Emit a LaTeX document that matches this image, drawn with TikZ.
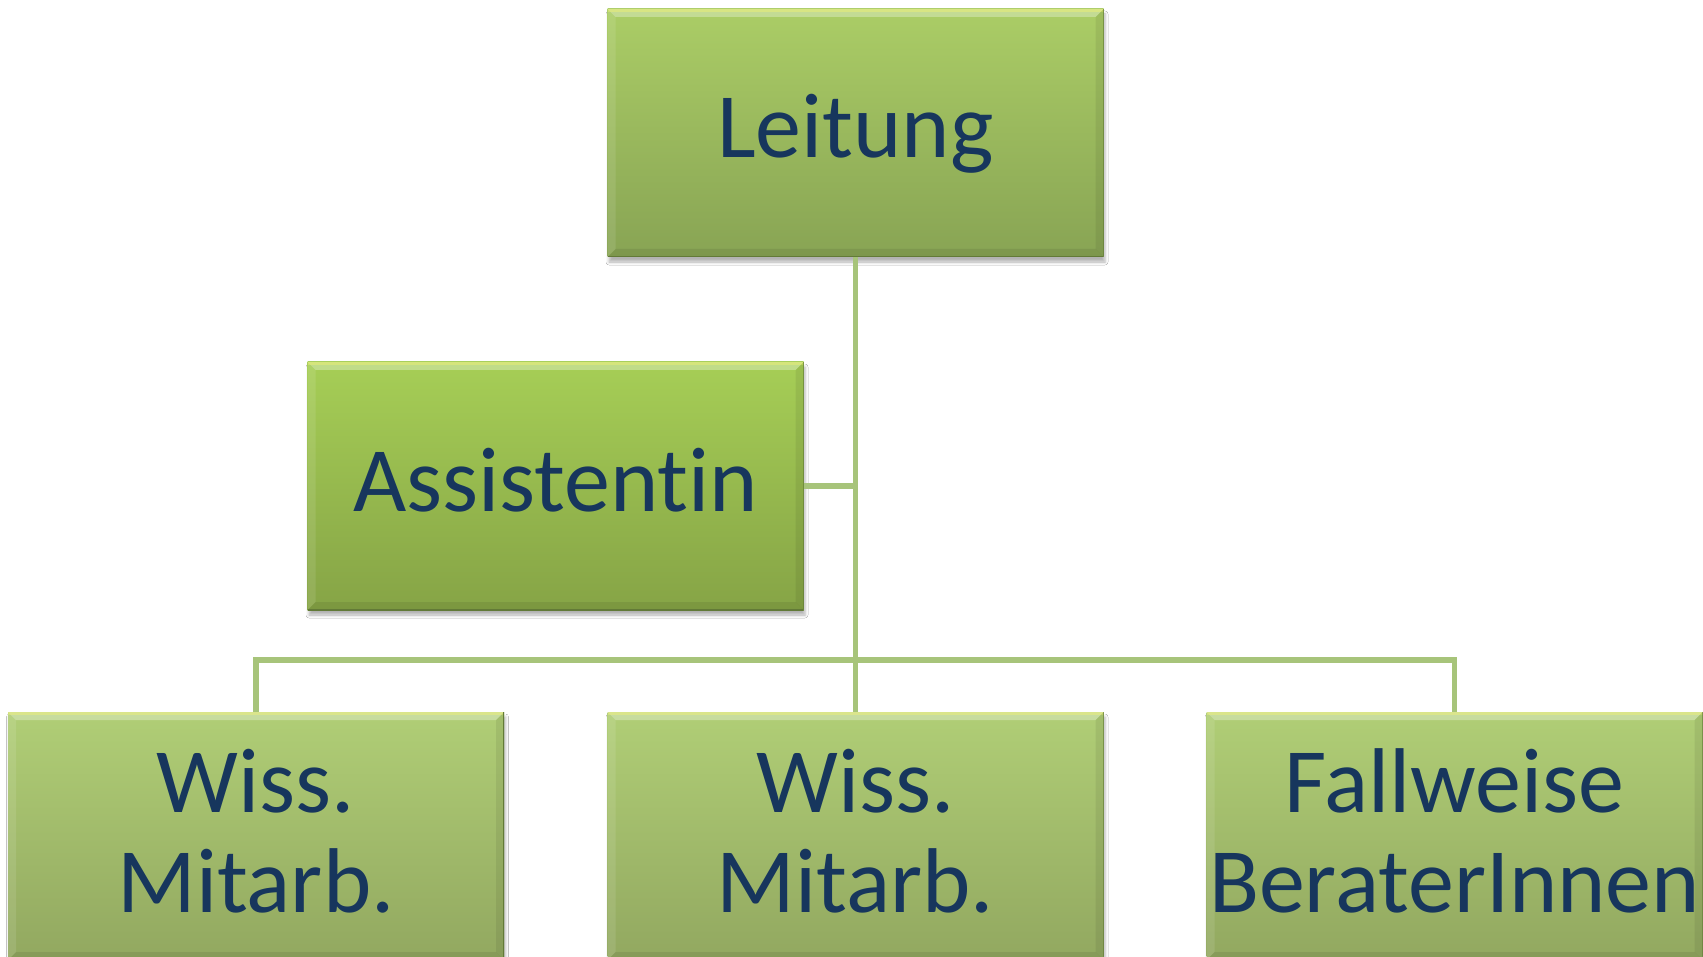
\documentclass[tikz,border=0pt]{standalone}
\usepackage{fontspec}
\setmainfont{Carlito}[Ligatures={NoCommon,NoRequired,NoContextual}]
\usetikzlibrary{shadows.blur}
\definecolor{txtblue}{HTML}{17365D}
\definecolor{connc}{RGB}{167,196,122}
\definecolor{edgec}{RGB}{98,122,55}
\definecolor{gA}{RGB}{171,205,102}
\definecolor{gAb}{RGB}{136,164,84}
\definecolor{gB}{RGB}{166,206,86}
\definecolor{gBb}{RGB}{134,164,70}
\definecolor{gC}{RGB}{176,206,118}
\definecolor{gCb}{RGB}{146,168,96}
\begin{document}
\begin{tikzpicture}[x=1pt,y=-1pt,
  box/.style={minimum width=496pt, minimum height=248pt, inner sep=0pt, outer sep=0pt,
    blur shadow={shadow xshift=1.5pt, shadow yshift=-5pt, shadow blur radius=3pt, shadow opacity=30},
    path picture={
      \fill[white,opacity=.30] (path picture bounding box.north west) -- (path picture bounding box.north east)
        -- ([xshift=-8pt,yshift=-8pt]path picture bounding box.north east)
        -- ([xshift=8pt,yshift=-8pt]path picture bounding box.north west) -- cycle;
      \fill[yellow!60!white,opacity=.35] (path picture bounding box.north west) rectangle ([yshift=-3pt]path picture bounding box.north east);
      \fill[white,opacity=.10] (path picture bounding box.north west) -- (path picture bounding box.south west)
        -- ([xshift=8pt,yshift=8pt]path picture bounding box.south west)
        -- ([xshift=8pt,yshift=-8pt]path picture bounding box.north west) -- cycle;
      \fill[black,opacity=.07] (path picture bounding box.north east) -- (path picture bounding box.south east)
        -- ([xshift=-8pt,yshift=8pt]path picture bounding box.south east)
        -- ([xshift=-8pt,yshift=-8pt]path picture bounding box.north east) -- cycle;
      \fill[black,opacity=.08] (path picture bounding box.south west) -- (path picture bounding box.south east)
        -- ([xshift=-8pt,yshift=8pt]path picture bounding box.south east)
        -- ([xshift=8pt,yshift=8pt]path picture bounding box.south west) -- cycle;
      \draw[edgec,line width=2pt] (path picture bounding box.south west) -- (path picture bounding box.south east) -- (path picture bounding box.north east);
    }},
  lbl/.style={anchor=base, text=txtblue, font=\fontsize{92}{100}\selectfont, align=center, inner sep=0pt},
  conn/.style={draw=connc, line width=5.5pt}]
\clip (0,0) rectangle (1703,957);
\fill[white] (0,0) rectangle (1703,957);
% boxes
\node[box, top color=gA, bottom color=gAb] (lead) at (855.5,133) {};
\node[box, top color=gB, bottom color=gBb] (ast) at (555.5,486) {};
\node[box, top color=gC, bottom color=gCb] (w1) at (256,836) {};
\node[box, top color=gC, bottom color=gCb] (w2) at (855.5,836) {};
\node[box, top color=gC, bottom color=gCb] (fb) at (1454.5,836) {};
% connectors
\coordinate (bus) at (855.5,660);
\draw[conn] (lead.south) -- (w2.north);
\draw[conn] (w1.north) |- (bus) -| (fb.north);
\draw[conn] (ast.east) -- (ast.east -| lead.south);
% texts
\node[lbl] (leadT) at (855.5,158) {Leitung};
\node[lbl] (astT) at (555.5,511) {Assistentin};
\node[lbl] (w1T) at (256,912) {Wiss.\\Mitarb.};
\node[lbl] (w2T) at (855.5,912) {Wiss.\\Mitarb.};
\node[lbl] (fbT) at (1454.5,912) {Fallweise\\BeraterInnen};
\end{tikzpicture}
\end{document}
